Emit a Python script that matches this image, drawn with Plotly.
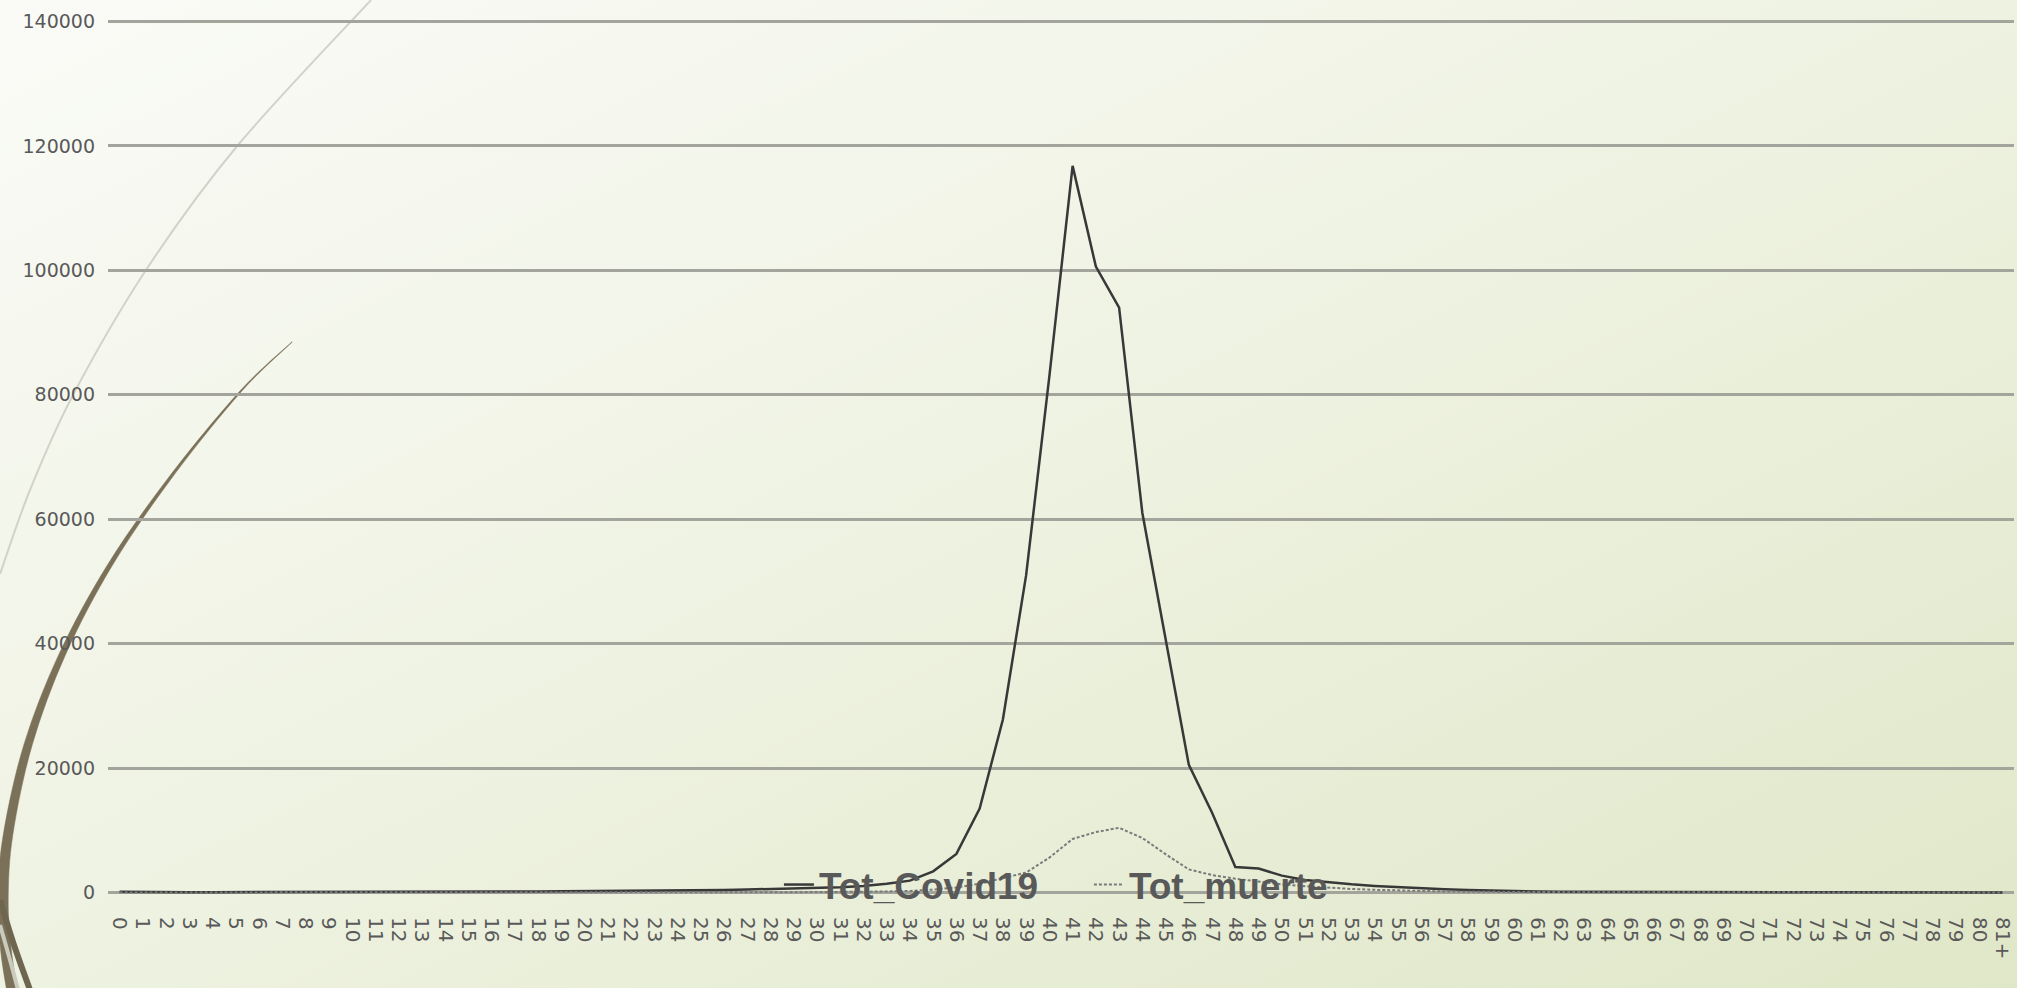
import base64
import plotly.graph_objects as go

# ---------------- data ----------------
categories = [str(i) for i in range(81)] + ["81+"]

tot_covid19 = [
    120, 60, 50, 45, 40, 40, 45, 50, 55, 60,
    70, 75, 80, 90, 100, 110, 125, 140, 160, 180,
    200, 220, 250, 280, 320, 360, 410, 470, 540, 620,
    720, 850, 1050, 1400, 1900, 3400, 6200, 13500, 27800, 51000,
    83000, 116800, 100600, 94000, 61000, 41000, 20500, 12800, 4100, 3850,
    2700, 2000, 1600, 1300, 1050, 850, 650, 500, 380, 280,
    200, 150, 120, 100, 85, 70, 60, 50, 45, 40,
    35, 30, 25, 22, 20, 18, 15, 12, 10, 8,
    6, 10,
]

tot_muerte = [
    5, 2, 1, 1, 1, 1, 1, 1, 2, 2,
    2, 3, 3, 3, 4, 4, 5, 6, 7, 8,
    9, 10, 12, 14, 16, 19, 22, 26, 30, 35,
    40, 60, 90, 150, 250, 450, 800, 1400, 2300, 3200,
    5600, 8600, 9700, 10400, 8750, 6150, 3700, 2800, 2200, 1700,
    1300, 1000, 750, 560, 420, 300, 220, 160, 110, 80,
    60, 45, 35, 28, 22, 18, 15, 12, 10, 8,
    7, 6, 5, 4, 4, 3, 3, 2, 2, 2,
    1, 2,
]

y_ticks = [0, 20000, 40000, 60000, 80000, 100000, 120000, 140000]

# ---------------- layout geometry ----------------
W, H = 2017, 988
ML, MR, MT, MB = 108, 3, 20, 94
PW, PH = W - ML - MR, H - MT - MB

GREY_TXT = "#595959"


def px(x, y):
    """pixel position on page -> paper coordinates (for decorations)."""
    return (x - ML) / PW, (H - MB - y) / PH


def smooth(points, start_cmd="M"):
    """Catmull-Rom through pixel points -> cubic bezier path in paper coords."""
    p = [px(x, y) for x, y in points]
    d = "{} {:.5f},{:.5f}".format(start_cmd, *p[0])
    n = len(p)
    for i in range(n - 1):
        p0 = p[i - 1] if i > 0 else p[i]
        p1, p2 = p[i], p[i + 1]
        p3 = p[i + 2] if i + 2 < n else p[i + 1]
        c1 = (p1[0] + (p2[0] - p0[0]) / 6, p1[1] + (p2[1] - p0[1]) / 6)
        c2 = (p2[0] - (p3[0] - p1[0]) / 6, p2[1] - (p3[1] - p1[1]) / 6)
        d += " C {:.5f},{:.5f} {:.5f},{:.5f} {:.5f},{:.5f}".format(*c1, *c2, *p2)
    return d


def ribbon(center):
    left = [(x - w, y) for x, y, w in center]
    right = [(x + w, y) for x, y, w in center][::-1]
    return smooth(left) + " " + smooth(right, "L") + " Z"


fig = go.Figure()

fig.add_trace(go.Scatter(
    x=categories, y=tot_covid19, name="Tot_Covid19", mode="lines",
    line=dict(color="#383838", width=2.5),
))
fig.add_trace(go.Scatter(
    x=categories, y=tot_muerte, name="Tot_muerte", mode="lines",
    line=dict(color="#7a7a7a", width=2, dash="3px,2px"),
))

# gradient background as an SVG image
svg = (
    '<svg xmlns="http://www.w3.org/2000/svg" width="2017" height="988" '
    'viewBox="0 0 2017 988" preserveAspectRatio="none">'
    '<defs><linearGradient id="g" x1="0" y1="0" x2="1" y2="1">'
    '<stop offset="0" stop-color="#fafbf7"/>'
    '<stop offset="0.5" stop-color="#eef2e1"/>'
    '<stop offset="1" stop-color="#e0e7c8"/>'
    '</linearGradient></defs>'
    '<rect width="2017" height="988" fill="url(#g)"/></svg>'
)
src = "data:image/svg+xml;base64," + base64.b64encode(svg.encode()).decode()
x0, y0 = px(0, 0)
fig.add_layout_image(dict(
    source=src, xref="paper", yref="paper", x=x0, y=y0,
    sizex=W / PW, sizey=H / PH, xanchor="left", yanchor="top",
    sizing="stretch", layer="below",
))

# decorative slide arcs (background ornaments)
light_arc = [(371, 0), (238, 145), (146, 270), (73, 395), (30, 490), (0, 574)]
dark_arc = [(292, 342, 0.3), (240, 392, 1.0), (170, 478, 1.8), (110, 565, 2.6),
            (62, 655, 3.4), (28, 745, 4.2), (8, 835, 4.8), (3, 900, 5.2),
            (6, 950, 5.4), (12, 990, 5.4)]
shapes = [
    dict(type="path", xref="paper", yref="paper", path=smooth(light_arc),
         line=dict(color="#d2d3c8", width=2), layer="below"),
    dict(type="path", xref="paper", yref="paper", path=ribbon(dark_arc),
         fillcolor="#7b7159", line=dict(color="#7b7159", width=0.5), layer="below"),
    dict(type="path", xref="paper", yref="paper",
         path=smooth([(0, 900), (14, 945), (30, 990)]),
         line=dict(color="#6f6650", width=6), layer="below"),
    dict(type="path", xref="paper", yref="paper",
         path=smooth([(0, 925), (10, 960), (18, 990)]),
         line=dict(color="#c9cbbd", width=4), layer="below"),
]

fig.update_layout(
    width=W, height=H,
    margin=dict(l=ML, r=MR, t=MT, b=MB, pad=0),
    paper_bgcolor="#eef1e2",
    plot_bgcolor="rgba(0,0,0,0)",
    shapes=shapes,
    showlegend=True,
    legend=dict(
        orientation="h", x=0.352, y=0.0103, xanchor="left", yanchor="middle",
        bgcolor="rgba(0,0,0,0)",
        font=dict(family="Liberation Sans, Arial", size=37, color=GREY_TXT, weight="bold"),
        itemwidth=30, tracegroupgap=0,
        entrywidth=265, entrywidthmode="pixels",
    ),
    xaxis=dict(
        type="category", range=[-0.5, len(categories) - 0.5],
        showgrid=False, showline=False, zeroline=False, ticks="",
        tickangle=90, tickmode="array", tickvals=categories, ticktext=categories,
        tickfont=dict(family="DejaVu Sans", size=20, color=GREY_TXT),
        ticklabelstandoff=22,
    ),
    yaxis=dict(
        range=[-250, 140250], tickmode="array", tickvals=y_ticks,
        ticktext=[str(v) for v in y_ticks],
        showgrid=True, gridcolor="#a3a49c", gridwidth=3,
        showline=False, zeroline=False, ticks="",
        tickfont=dict(family="DejaVu Sans", size=19, color=GREY_TXT),
        ticklabelstandoff=12,
    ),
)

fig.write_html("out.html")
